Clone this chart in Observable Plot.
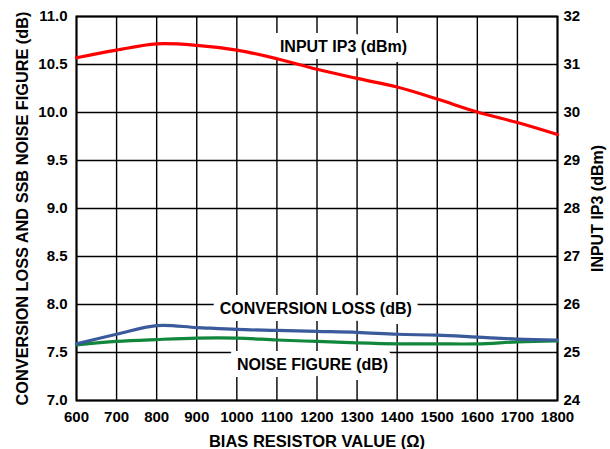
<!DOCTYPE html>
<html>
<head>
<meta charset="utf-8">
<script src="https://cdn.jsdelivr.net/npm/d3@7"></script>
<script src="https://cdn.jsdelivr.net/npm/@observablehq/plot@0.6"></script>
<style>
  html, body { margin: 0; padding: 0; background: #fff; }
  svg { font-family: Arial, "Liberation Sans", sans-serif; font-weight: bold; }
</style>
</head>
<body>
<div id="chart"></div>
<script>
// Data
const biasResistor = [600, 700, 800, 900, 1000, 1100, 1200, 1300, 1400, 1500, 1600, 1700, 1800];
const inputIP3 = [31.14, 31.30, 31.43, 31.40, 31.30, 31.12, 30.90, 30.71, 30.53, 30.28, 30.01, 29.79, 29.54];
const conversionLoss = [7.59, 7.69, 7.78, 7.76, 7.74, 7.73, 7.72, 7.71, 7.69, 7.68, 7.66, 7.64, 7.63];
const noiseFigure = [7.58, 7.615, 7.635, 7.65, 7.65, 7.63, 7.615, 7.60, 7.59, 7.59, 7.59, 7.61, 7.62];

const xTicks = [600, 700, 800, 900, 1000, 1100, 1200, 1300, 1400, 1500, 1600, 1700, 1800];
const leftTicks = [7.0, 7.5, 8.0, 8.5, 9.0, 9.5, 10.0, 10.5, 11.0];
const rightTicks = [24, 25, 26, 27, 28, 29, 30, 31, 32];

const labelNames = ["INPUT IP3 (dBm)", "CONVERSION LOSS (dB)", "NOISE FIGURE (dB)"];
const labelX = [1266, 1197, 1189];
const labelY = [10.68, 7.95, 7.37];

// map right-axis (dBm) to left-axis (dB) scale
const toLeft = r => 7 + (r - 24) / 2;
const toRight = v => 24 + (v - 7) * 2;

const rows = biasResistor.map((x, i) => ({x, ip3: toLeft(inputIP3[i]), cl: conversionLoss[i], nf: noiseFigure[i]}));
const labels = labelNames.map((t, i) => ({t, x: labelX[i], y: labelY[i]}));

const chart = Plot.plot({
  width: 610,
  height: 449,
  marginLeft: 76,
  marginRight: 53,
  marginTop: 16,
  marginBottom: 49,
  style: {fontFamily: "Arial, 'Liberation Sans', sans-serif", fontSize: "16px", fontWeight: "bold", color: "#000"},
  x: {domain: [600, 1800]},
  y: {domain: [7, 11]},
  marks: [
    Plot.gridX(xTicks, {stroke: "#000", strokeOpacity: 1, strokeWidth: 1.4}),
    Plot.gridY(leftTicks, {stroke: "#000", strokeOpacity: 1, strokeWidth: 1.4}),
    Plot.text(labels, {x: "x", y: "y", text: "t", fill: "#000", stroke: "#fff", strokeWidth: 14, strokeLinejoin: "miter", fontSize: 16, fontWeight: "bold"}),
    Plot.frame({stroke: "#000", strokeWidth: 2}),
    Plot.axisX(xTicks, {tickSize: 0, tickPadding: 11, fontSize: 15, fontWeight: "bold", label: null, tickFormat: d => String(d)}),
    Plot.axisX([], {tickSize: 0, fontSize: 16.5, fontWeight: "bold", label: "BIAS RESISTOR VALUE (Ω)", labelAnchor: "center", labelArrow: "none", labelOffset: 46}),
    Plot.axisY(leftTicks, {anchor: "left", tickSize: 0, tickPadding: 9, fontSize: 15, fontWeight: "bold", tickFormat: d => d.toFixed(1), label: null}),
    Plot.axisY([], {anchor: "left", tickSize: 0, fontSize: 16.3, fontWeight: "bold", label: "CONVERSION LOSS AND SSB NOISE FIGURE (dB)", labelAnchor: "center", labelArrow: "none", labelOffset: 60}),
    Plot.axisY(rightTicks.map(toLeft), {anchor: "right", tickSize: 0, tickPadding: 6, fontSize: 15, fontWeight: "bold", tickFormat: d => String(Math.round(toRight(d))), label: null}),
    Plot.axisY([], {anchor: "right", tickSize: 0, fontSize: 16, fontWeight: "bold", label: "INPUT IP3 (dBm)", labelAnchor: "center", labelArrow: "none", labelOffset: 45}),
    Plot.line(rows, {x: "x", y: "nf", stroke: "#11873c", strokeWidth: 3.2, curve: "catmull-rom"}),
    Plot.line(rows, {x: "x", y: "cl", stroke: "#3a5a9c", strokeWidth: 3.2, curve: "catmull-rom"}),
    Plot.line(rows, {x: "x", y: "ip3", stroke: "#ff0000", strokeWidth: 3.2, curve: "catmull-rom"})
  ]
});
document.getElementById("chart").appendChild(chart);
</script>
</body>
</html>
